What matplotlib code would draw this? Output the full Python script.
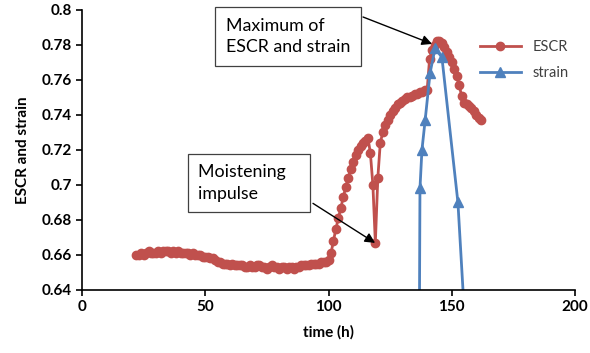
import numpy as np
import matplotlib
matplotlib.use("Agg")
import matplotlib.pyplot as plt

plt.rcParams['font.family'] = ['Lato', 'DejaVu Sans']

# ESCR mesure toutes les heures
t_escr = np.arange(22, 163)
escr = [0.660, 0.660, 0.661, 0.660, 0.661, 0.662, 0.661, 0.661, 0.661, 0.662,
        0.661, 0.662, 0.662, 0.662, 0.661, 0.662, 0.661, 0.662, 0.661, 0.661,
        0.661, 0.661, 0.660, 0.661, 0.660, 0.660, 0.660, 0.659, 0.659, 0.659,
        0.658, 0.658, 0.657, 0.656, 0.656, 0.655, 0.655, 0.655, 0.654, 0.655,
        0.654, 0.654, 0.654, 0.654, 0.653, 0.653, 0.654, 0.653, 0.653, 0.654,
        0.654, 0.653, 0.653, 0.652, 0.653, 0.654, 0.653, 0.653, 0.652, 0.653,
        0.653, 0.652, 0.653, 0.653, 0.652, 0.653, 0.653, 0.654, 0.654, 0.654,
        0.654, 0.655, 0.655, 0.655, 0.655, 0.656, 0.656, 0.656, 0.657, 0.661,
        0.668, 0.675, 0.681, 0.687, 0.693, 0.699, 0.704, 0.709, 0.713, 0.717,
        0.720, 0.722, 0.724, 0.725, 0.727, 0.718, 0.700, 0.667, 0.704, 0.724,
        0.730, 0.734, 0.737, 0.740, 0.742, 0.744, 0.746, 0.747, 0.748, 0.749,
        0.750, 0.750, 0.751, 0.752, 0.752, 0.753, 0.753, 0.754, 0.754, 0.772,
        0.777, 0.780, 0.782, 0.782, 0.781, 0.779, 0.776, 0.773, 0.770, 0.766,
        0.762, 0.757, 0.751, 0.747, 0.746, 0.745, 0.744, 0.742, 0.740, 0.738,
        0.737]

# deformation
t_strain = [136.8, 137.1, 137.9, 139.2, 141.2, 143.2, 146.0, 152.5, 156.2]
strain = [0.600, 0.698, 0.720, 0.737, 0.764, 0.778, 0.773, 0.690, 0.600]

rouge = '#C0504D'
bleu = '#4F81BD'

fig = plt.figure(figsize=(5.9, 3.53), dpi=100)
ax = fig.add_axes([0.139, 0.1785, 0.8356, 0.7932])

ax.plot(t_escr, escr, color=rouge, marker='o', markersize=6, linewidth=2,
        label='ESCR')
ax.plot(t_strain, strain, color=bleu, marker='^', markersize=6.5, linewidth=2,
        label='strain')

ax.set_xlim(0, 200)
ax.set_ylim(0.64, 0.8)
ax.set_xticks([0, 50, 100, 150, 200])
ax.set_yticks([0.64, 0.66, 0.68, 0.70, 0.72, 0.74, 0.76, 0.78, 0.80])
ax.set_yticklabels(['0.64', '0.66', '0.68', '0.7', '0.72', '0.74', '0.76', '0.78', '0.8'])
ax.spines['top'].set_visible(False)
ax.spines['right'].set_visible(False)
ax.spines['left'].set_linewidth(1.2)
ax.spines['bottom'].set_linewidth(1.2)
ax.tick_params(direction='out', length=4, width=1.2, labelsize=11)
for lab in ax.get_xticklabels() + ax.get_yticklabels():
    lab.set_fontweight('bold')

ax.set_xlabel('time (h)', fontsize=11, fontweight='bold', labelpad=8)
ax.set_ylabel('ESCR and strain', fontsize=11, fontweight='bold', labelpad=8)

leg = ax.legend(loc='upper left', bbox_to_anchor=(0.78, 0.94), frameon=False,
                fontsize=10.5, handlelength=2.8, labelspacing=0.85)
for txt in leg.get_texts():
    txt.set_color('#404040')

# annotations
boite = dict(boxstyle='square,pad=0.6', facecolor='white', edgecolor='#404040',
             linewidth=0.9)
ax.annotate('', xy=(142.0, 0.7806), xytext=(114.0, 0.796),
            arrowprops=dict(arrowstyle='-|>', color='black', lw=1.0,
                            mutation_scale=15, shrinkA=0, shrinkB=0))
ax.text(83.6, 0.7849, 'Maximum of\nESCR and strain', fontsize=12.8,
        ha='center', va='center', multialignment='left', bbox=boite,
        linespacing=1.4)

ax.annotate('', xy=(118.9, 0.6669), xytext=(93.7, 0.6895),
            arrowprops=dict(arrowstyle='-|>', color='black', lw=1.0,
                            mutation_scale=15, shrinkA=0, shrinkB=0))
ax.text(67.7, 0.7011, 'Moistening   \nimpulse', fontsize=12.8,
        ha='center', va='center', multialignment='left', bbox=boite,
        linespacing=1.4)

fig.savefig('out.png', dpi=100)
